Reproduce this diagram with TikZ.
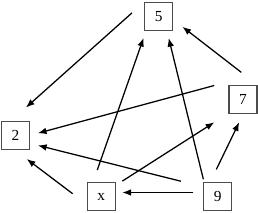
\documentclass[tikz,border=0pt]{standalone}
\usepackage{fontspec}
\setmainfont{Liberation Serif}
\usetikzlibrary{arrows.meta}

\begin{document}
\begin{tikzpicture}[
    x=0.75pt,
    y=-0.75pt,
    >={Latex[length=6.5pt,width=5pt]},
    arr/.style={->, line width=0.95pt},
    box/.style={
        draw=black!70,
        line width=1pt,
        minimum size=21pt,
        inner sep=0pt,
        font=\fontsize{11.5}{13}\selectfont,
    },
]

\useasboundingbox (0,0) rectangle (258,213);

% --- Boxes ---
\node[box] (n5) at (158.8,16.2)  {5};
\node[box] (n2) at (15.5,135.3)  {2};
\node[box] (n7) at (243,99.7)    {7};
\node[box] (nx) at (101.2,196.7) {x};
\node[box] (n9) at (217.7,196.7) {9};

% --- Arrows ---
\draw[arr, shorten <=12.2pt, shorten >=14.7pt] (n5.136) -- (n2.106);
\draw[arr, shorten <=15.5pt, shorten >=8.5pt]  (n7.north east) -- (n5.346);
\draw[arr, shorten <=10.9pt, shorten >=6pt]    ([yshift=2.5pt]n7.north west) -- (n2.east);
\draw[arr, shorten <=9.5pt, shorten >=5.6pt]   (nx.119) -- (n5.229);
\draw[arr, shorten <=2.1pt, shorten >=5.5pt]   (n9.133) -- (n5.299);
\draw[arr, shorten <=5.8pt, shorten >=12.5pt]  (nx.38) -- (n7.223);
\draw[arr, shorten <=10.5pt, shorten >=6.6pt]  (n9.117) -- (n7.south);
\draw[arr, shorten <=17pt, shorten >=6pt]      (n9.146) -- (n2.331);
\draw[arr, shorten <=13pt, shorten >=11.3pt]   (nx.207) -- (n2.267);
\draw[arr, shorten <=7.3pt, shorten >=4.9pt]   (n9.164) -- (nx.16);

\end{tikzpicture}
\end{document}
